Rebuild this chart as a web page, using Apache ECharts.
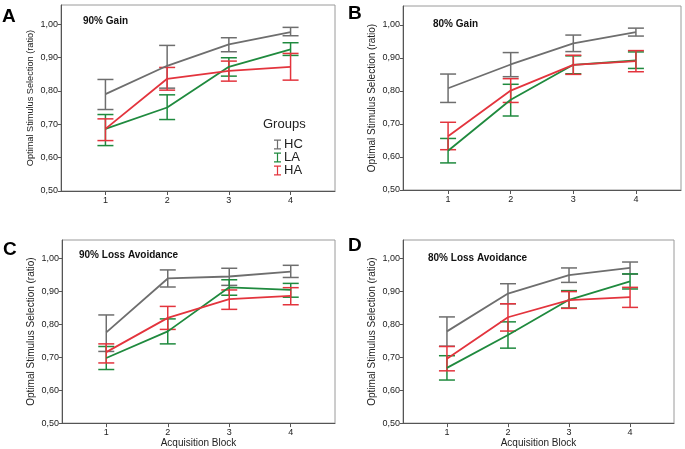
<!DOCTYPE html>
<html>
<head>
<meta charset="utf-8">
<script src="https://cdn.jsdelivr.net/npm/echarts@6/dist/echarts.min.js"></script>
<style>html,body{margin:0;padding:0;background:#fff;}#c{width:685px;height:449px;}</style>
</head>
<body>
<div id="c"></div>
<script>
// ---- data ----
const blocks = [1, 2, 3, 4];
const yTicks = [0.5, 0.6, 0.7, 0.8, 0.9, 1.0];
const groups = ['HC', 'LA', 'HA'];
const panelTitles = ['90% Gain', '80% Gain', '90% Loss Avoidance', '80% Loss Avoidance'];
const panelLetters = ['A', 'B', 'C', 'D'];

// Panel A: 90% Gain
const A_HC_mean = [0.790, 0.875, 0.939, 0.976];
const A_HC_lo   = [0.744, 0.808, 0.917, 0.965];
const A_HC_hi   = [0.834, 0.936, 0.959, 0.990];
const A_LA_mean = [0.686, 0.750, 0.872, 0.924];
const A_LA_lo   = [0.636, 0.714, 0.844, 0.906];
const A_LA_hi   = [0.729, 0.788, 0.899, 0.944];
const A_HA_mean = [0.686, 0.836, 0.860, 0.872];
const A_HA_lo   = [0.651, 0.802, 0.829, 0.832];
const A_HA_hi   = [0.716, 0.870, 0.889, 0.912];

// Panel B: 80% Gain
const B_HC_mean = [0.808, 0.880, 0.944, 0.978];
const B_HC_lo   = [0.765, 0.843, 0.919, 0.966];
const B_HC_hi   = [0.851, 0.916, 0.969, 0.990];
const B_LA_mean = [0.619, 0.773, 0.879, 0.892];
const B_LA_lo   = [0.582, 0.724, 0.852, 0.868];
const B_LA_hi   = [0.656, 0.820, 0.906, 0.918];
const B_HA_mean = [0.663, 0.801, 0.879, 0.890];
const B_HA_lo   = [0.622, 0.765, 0.850, 0.858];
const B_HA_hi   = [0.705, 0.837, 0.908, 0.922];

// Panel C: 90% Loss Avoidance
const C_HC_mean = [0.776, 0.940, 0.946, 0.961];
const C_HC_lo   = [0.718, 0.914, 0.919, 0.943];
const C_HC_hi   = [0.829, 0.966, 0.971, 0.980];
const C_LA_mean = [0.698, 0.779, 0.913, 0.905];
const C_LA_lo   = [0.663, 0.741, 0.889, 0.883];
const C_LA_hi   = [0.733, 0.817, 0.936, 0.925];
const C_HA_mean = [0.716, 0.820, 0.877, 0.887];
const C_HA_lo   = [0.683, 0.785, 0.846, 0.860];
const C_HA_hi   = [0.741, 0.855, 0.905, 0.912];

// Panel D: 80% Loss Avoidance
const D_HC_mean = [0.779, 0.894, 0.950, 0.972];
const D_HC_lo   = [0.734, 0.863, 0.928, 0.953];
const D_HC_hi   = [0.823, 0.924, 0.972, 0.990];
const D_LA_mean = [0.668, 0.768, 0.875, 0.931];
const D_LA_lo   = [0.631, 0.728, 0.850, 0.908];
const D_LA_hi   = [0.705, 0.808, 0.903, 0.954];
const D_HA_mean = [0.696, 0.822, 0.874, 0.883];
const D_HA_lo   = [0.659, 0.780, 0.849, 0.852];
const D_HA_hi   = [0.733, 0.863, 0.900, 0.913];

const panels = [
  {HC: [A_HC_mean, A_HC_lo, A_HC_hi], LA: [A_LA_mean, A_LA_lo, A_LA_hi], HA: [A_HA_mean, A_HA_lo, A_HA_hi]},
  {HC: [B_HC_mean, B_HC_lo, B_HC_hi], LA: [B_LA_mean, B_LA_lo, B_LA_hi], HA: [B_HA_mean, B_HA_lo, B_HA_hi]},
  {HC: [C_HC_mean, C_HC_lo, C_HC_hi], LA: [C_LA_mean, C_LA_lo, C_LA_hi], HA: [C_HA_mean, C_HA_lo, C_HA_hi]},
  {HC: [D_HC_mean, D_HC_lo, D_HC_hi], LA: [D_LA_mean, D_LA_lo, D_LA_hi], HA: [D_HA_mean, D_HA_lo, D_HA_hi]}
];

// ---- styles / layout ----
const FONT = "'Liberation Sans', Arial, Helvetica, sans-serif";
const colors = {HC: '#6e6e6e', LA: '#1f8a3e', HA: '#e3343d'};
const grids = [
  {left: 61, top: 5, width: 274, height: 186},
  {left: 403, top: 6, width: 278, height: 184},
  {left: 62, top: 240, width: 273, height: 185},
  {left: 403, top: 240, width: 271, height: 184}
];
const yNameSize = [9.2, 10, 10, 10];
const letterPos = [[2, 7], [348, 4], [3, 240], [348, 236]];
const titlePos = [[83, 16], [433, 19], [79, 250], [428, 253]];

const fmtY = v => v.toFixed(2).replace('.', ',');

const option = {
  animation: false,
  textStyle: {fontFamily: FONT},
  grid: grids.map(g => Object.assign({show: true, borderColor: '#9a9a9a', borderWidth: 1, backgroundColor: '#fff'}, g)),
  xAxis: grids.map((g, i) => ({
    type: 'value', gridIndex: i, min: 0.28, max: 4.72,
    splitLine: {show: false},
    axisLine: {show: true, lineStyle: {color: '#555', width: 1}},
    axisTick: {show: true, customValues: blocks, length: 4, lineStyle: {color: '#555'}},
    axisLabel: {customValues: blocks, formatter: v => String(Math.round(v)), fontSize: 9, color: '#222', margin: 5, fontFamily: FONT},
    name: i >= 2 ? 'Acquisition Block' : '',
    nameLocation: 'middle', nameGap: 14,
    nameTextStyle: {fontSize: 10, color: '#222', fontFamily: FONT}
  })),
  yAxis: grids.map((g, i) => ({
    type: 'value', gridIndex: i, min: 0.5, max: 1.057,
    splitLine: {show: false},
    axisLine: {show: true, lineStyle: {color: '#555', width: 1}},
    axisTick: {show: true, customValues: yTicks, length: 3, lineStyle: {color: '#555'}},
    axisLabel: {customValues: yTicks, formatter: fmtY, fontSize: 9, color: '#222', margin: 3, fontFamily: FONT},
    name: 'Optimal Stimulus Selection (ratio)',
    nameLocation: 'middle', nameGap: 26,
    nameTextStyle: {fontSize: yNameSize[i], color: '#222', fontFamily: FONT}
  })),
  legend: {
    data: groups, orient: 'vertical', left: 269, top: 133,
    icon: 'path://M0,0H7V1.3H4.1V8.7H7V10H0V8.7H2.9V1.3H0Z',
    itemWidth: 7, itemHeight: 10, itemGap: 0, selectedMode: false,
    textStyle: {fontSize: 13, color: '#222', fontFamily: FONT, padding: [0, 0, 0, -2]}
  },
  graphic: [],
  series: []
};

option.graphic.push({type: 'text', left: 263, top: 118, style: {text: 'Groups', font: '13px ' + FONT, fill: '#222'}});
panels.forEach((p, i) => {
  option.graphic.push({type: 'text', left: letterPos[i][0], top: letterPos[i][1], style: {text: panelLetters[i], font: 'bold 19px ' + FONT, fill: '#000'}});
  option.graphic.push({type: 'text', left: titlePos[i][0], top: titlePos[i][1], style: {text: panelTitles[i], font: 'bold 10px ' + FONT, fill: '#111'}});
});

panels.forEach((p, i) => {
  groups.forEach(gname => {
    const [mean, lo, hi] = p[gname];
    const col = colors[gname];
    option.series.push({
      name: gname, type: 'custom', xAxisIndex: i, yAxisIndex: i,
      encode: {x: 0, y: [1, 2]},
      data: blocks.map((b, k) => [b, lo[k], hi[k]]),
      itemStyle: {color: col},
      z: 2,
      renderItem: (params, api) => {
        const x = api.value(0);
        const pl = api.coord([x, api.value(1)]);
        const ph = api.coord([x, api.value(2)]);
        const hw = 8;
        const st = {stroke: col, lineWidth: 1.5};
        return {type: 'group', children: [
          {type: 'line', shape: {x1: pl[0], y1: pl[1], x2: ph[0], y2: ph[1]}, style: st},
          {type: 'line', shape: {x1: pl[0] - hw, y1: pl[1], x2: pl[0] + hw, y2: pl[1]}, style: st},
          {type: 'line', shape: {x1: ph[0] - hw, y1: ph[1], x2: ph[0] + hw, y2: ph[1]}, style: st}
        ]};
      }
    });
    option.series.push({
      name: gname, type: 'line', xAxisIndex: i, yAxisIndex: i,
      data: blocks.map((b, k) => [b, mean[k]]),
      symbol: 'none', z: 3,
      itemStyle: {color: col},
      lineStyle: {color: col, width: 1.8}
    });
  });
});

const chart = echarts.init(document.getElementById('c'), null, {renderer: 'canvas'});
chart.setOption(option);
</script>
</body>
</html>
